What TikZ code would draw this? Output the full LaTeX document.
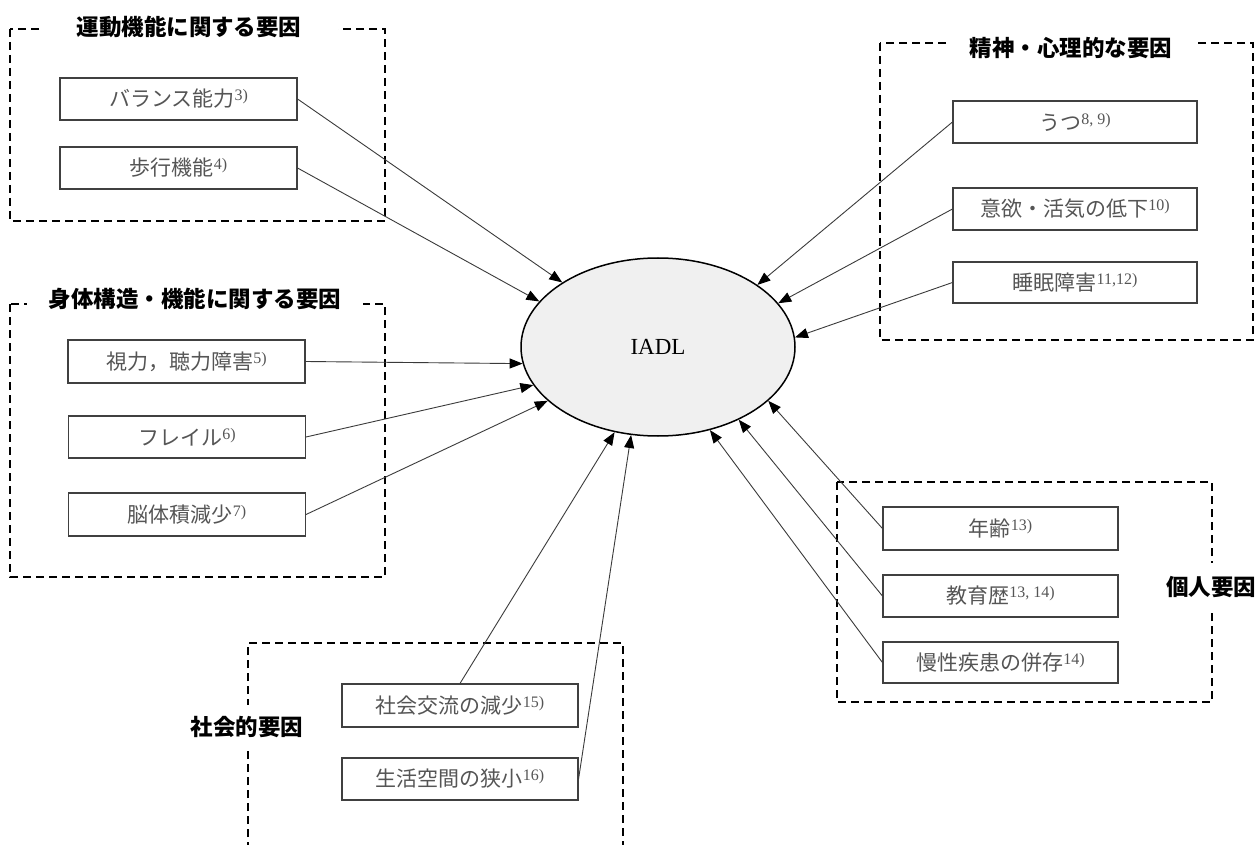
\documentclass[tikz,border=0pt]{standalone}
\usepackage{fontspec}
\setmainfont{Liberation Serif}
\newfontfamily\cjk{Noto Sans CJK JP}
\usetikzlibrary{arrows.meta,shapes.geometric}
\definecolor{boxtext}{HTML}{555555}
\definecolor{boxline}{HTML}{404040}
\definecolor{arrline}{HTML}{3A3A3A}
\tikzset{
  factor/.style={draw=boxline, line width=1.1pt, minimum width=236pt, minimum height=42pt,
    inner sep=0pt, text=boxtext, font=\fontsize{21}{25}\selectfont},
  group/.style={draw=black, line width=1.5pt, dash pattern=on 8pt off 5pt},
  gtitle/.style={fill=white, inner ysep=4pt, font=\cjk\bfseries\fontsize{22.5}{26}\selectfont},
  conn/.style={draw=arrline, line width=0.9pt, -{Triangle[length=13pt,width=10pt,color=black]}},
}
\newcommand{\jp}[2]{{\cjk #1}\raisebox{6pt}{\fontsize{16}{16}\selectfont #2}}
\begin{document}
\begin{tikzpicture}[x=1pt,y=-1pt]
\useasboundingbox (0,0) rectangle (1259,845);

% group frames
\draw[group] (10,29) rectangle (385,221);
\draw[group] (10,304) rectangle (385,577);
\draw[group] (880,43) rectangle (1253,340);
\draw[group] (837,482) rectangle (1212,702);
\draw[group] (248,850) -- (248,643) -- (623,643) -- (623,850);

% group titles
\node[gtitle, inner xsep=36pt] (t1) at (189,27) {運動機能に関する要因};
\node[gtitle, inner xsep=22pt] (t3) at (195,299) {身体構造・機能に関する要因};
\node[gtitle, inner xsep=22pt] (t2) at (1071,48) {精神・心理的な要因};
\node[gtitle, inner xsep=3pt, inner ysep=13pt] (t4) at (1211,587) {個人要因};
\node[gtitle, inner xsep=3pt, inner ysep=11pt] (t5) at (247,727) {社会的要因};

% central node
\node[ellipse, draw=black, line width=1.5pt, fill=black!6, minimum width=274pt, minimum height=178pt,
  font=\fontsize{23}{27}\selectfont] (iadl) at (658,347) {IADL};

% factor boxes
\node[factor, minimum width=237pt] (b1) at (178.5,99) {\jp{バランス能力}{3)}};
\node[factor, minimum width=237pt] (b2) at (178.5,168) {\jp{歩行機能}{4)}};
\node[factor, minimum width=237pt, minimum height=43pt] (b3) at (186.5,361.5) {\jp{視力，聴力障害}{5)}};
\node[factor, minimum width=237pt] (b4) at (187,437) {\jp{フレイル}{6)}};
\node[factor, minimum width=237pt, minimum height=43pt] (b5) at (187,514.5) {\jp{脳体積減少}{7)}};

\node[factor, minimum width=244pt] (b6) at (1075,122) {\jp{うつ}{8, 9)}};
\node[factor, minimum width=244pt] (b7) at (1075,209) {\jp{意欲・活気の低下}{10)}};
\node[factor, minimum width=244pt, minimum height=41pt] (b8) at (1075,282.5) {\jp{睡眠障害}{11,12)}};

\node[factor, minimum width=235pt, minimum height=43pt] (b9) at (1000.5,528.5) {\jp{年齢}{13)}};
\node[factor, minimum width=235pt] (b10) at (1000.5,596) {\jp{教育歴}{13, 14)}};
\node[factor, minimum width=235pt, minimum height=41pt] (b11) at (1000.5,662.5) {\jp{慢性疾患の併存}{14)}};

\node[factor, minimum height=43pt] (b12) at (460,705.5) {\jp{社会交流の減少}{15)}};
\node[factor] (b13) at (460,779) {\jp{生活空間の狭小}{16)}};

% connectors
\draw[conn] (b1.east) -- (iadl.146.3);
\draw[conn] (b2.east) -- (iadl.159.4);
\draw[conn] (b3.east) -- (iadl.187.5);
\draw[conn] (b4.east) -- (iadl.197.1);
\draw[conn] (b5.east) -- (iadl.206);
\draw[conn] (b6.west) -- (iadl.32.9);
\draw[conn] (b7.west) -- (iadl.20.3);
\draw[conn] (b8.west) -- (iadl.4.2);
\draw[conn] (b9.west) -- (iadl.334.8);
\draw[conn] (b10.west) -- (iadl.318.2);
\draw[conn] (b11.west) -- (iadl.302.3);
\draw[conn] (b12.north) -- (iadl.243.2);
\draw[conn] (b13.east) -- (iadl.253.1);
\end{tikzpicture}
\end{document}
